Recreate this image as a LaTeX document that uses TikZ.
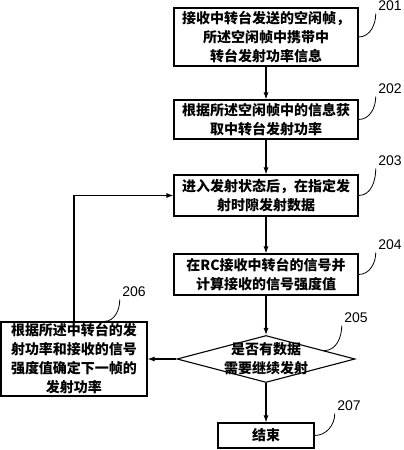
\documentclass[tikz,border=0pt]{standalone}
\usepackage{fontspec}
\newfontfamily\cjk{Noto Sans CJK SC}
\newfontfamily\numfont{Liberation Sans}
\usetikzlibrary{shapes.geometric, arrows.meta, calc}

\begin{document}
\begin{tikzpicture}[x=1pt, y=1pt, >={Latex[length=7pt,width=5pt]},
    every path/.style={line width=1.1pt},
    box/.style={draw, align=center, inner sep=0pt, font=\cjk\bfseries\fontsize{14}{19}\selectfont},
    num/.style={font=\numfont\fontsize{14}{14}\selectfont, inner sep=2pt}]

    \useasboundingbox (0,-450) rectangle (404,0);

    % Steps
    \node[box, minimum width=184pt, minimum height=58pt] (b201) at (266,-37)
        {接收中转台发送的空闲帧，\\所述空闲帧中携带中\\转台发射功率信息};
    \node[box, minimum width=184pt, minimum height=39pt] (b202) at (266,-119.5)
        {根据所述空闲帧中的信息获\\取中转台发射功率};
    \node[box, minimum width=184pt, minimum height=41pt] (b203) at (266,-195.5)
        {进入发射状态后，在指定发\\射时隙发射数据};
    \node[box, minimum width=184pt, minimum height=41pt] (b204) at (266,-274.5)
        {在RC接收中转台的信号并\\计算接收的信号强度值};

    % Decision
    \node[draw, diamond, minimum width=178pt, minimum height=47pt, inner sep=0pt] (d205) at (266,-359) {};
    \node[box, draw=none] (t205) at (d205) {是否有数据\\需要继续发射};

    \node[box, minimum width=146pt, minimum height=74pt] (b206) at (74,-359)
        {根据所述中转台的发\\射功率和接收的信号\\强度值确定下一帧的\\发射功率};
    \node[box, minimum width=96pt, minimum height=25pt] (b207) at (266,-435.5) {结束};

    % Flow
    \foreach \a/\b in {b201/b202, b202/b203, b203/b204, b204/d205, d205/b207}
        \draw[->] (\a) -- (\b);
    \draw[->] (d205) -- (b206);
    \draw[->] (b206) |- (b203);

    % Step numbers
    \node[num] (l201) at (390,-6) {201};
    \node[num] (l202) at (390,-89) {202};
    \node[num] (l203) at (390,-161) {203};
    \node[num] (l204) at (390,-245) {204};
    \node[num] (l205) at (356,-318) {205};
    \node[num] (l206) at (134,-292) {206};
    \node[num] (l207) at (349,-406) {207};

    \coordinate (c205) at ($(d205.north)!0.65!(d205.east)$);
    \coordinate (c206) at ([xshift=30pt]b206.north);

    \foreach \s/\t in {b201.east/l201, b202.east/l202, b203.east/l203, b204.east/l204, c205/l205, b207.east/l207}
        \draw[line width=0.8pt] (\s) to[out=0, in=-90] (\t.south west);
    \draw[line width=0.8pt] (c206) to[out=0, in=-90] (l206.south west);

\end{tikzpicture}
\end{document}
